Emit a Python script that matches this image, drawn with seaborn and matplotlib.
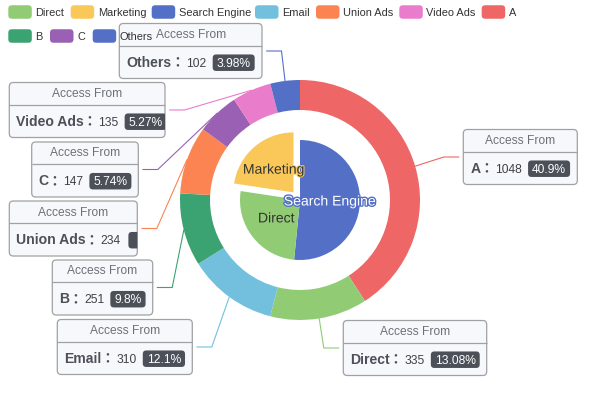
import numpy as np
import matplotlib
matplotlib.use('Agg')
import matplotlib.pyplot as plt
import seaborn as sns
from matplotlib.patches import FancyBboxPatch
import matplotlib.patheffects as pe

# ---------------- data ----------------
series_title = 'Access From'
inner_names = ['Search Engine', 'Direct', 'Marketing']
inner_values = [1548, 775, 679]
inner_selected = ['Marketing']
outer_names = ['A', 'Direct', 'Email', 'B', 'Union Ads', 'C', 'Video Ads', 'Others']
outer_values = [1048, 335, 310, 251, 234, 147, 135, 102]
legend_names = ['Direct', 'Marketing', 'Search Engine', 'Email', 'Union Ads',
                'Video Ads', 'A', 'B', 'C', 'Others']

# ---------------- styles ----------------
color_hex = {
    'Direct': '#91cc75', 'Marketing': '#fac858', 'Search Engine': '#5470c6',
    'Email': '#73c0de', 'Union Ads': '#fc8452', 'Video Ads': '#ea7ccc',
    'A': '#ee6666', 'B': '#3ba272', 'C': '#9a60b4', 'Others': '#5470c6',
}
palette = dict(zip(legend_names, sns.color_palette([color_hex[n] for n in legend_names])))

sns.set_theme(style='white')
plt.rcParams['font.family'] = ['Liberation Sans', 'Noto Sans CJK JP', 'DejaVu Sans']
PX = 0.72  # px -> pt at 100 dpi

# label box layout: (left, right, centre y) in px
label_layout = {
    'A': (463.3, 577.3, 157.0),
    'Direct': (343.3, 486.7, 348.0),
    'Email': (57.3, 192.3, 347.0),
    'B': (52.3, 152.7, 287.5),
    'Union Ads': (9.3, 137.3, 228.5),
    'C': (31.7, 138.3, 169.5),
    'Video Ads': (9.3, 165.0, 110.0),
    'Others': (119.3, 262.0, 51.0),
}
# legend layout: (icon left, centre y)
legend_layout = [(8.3, 12), (70.7, 12), (151.7, 12), (255, 12), (316, 12),
                 (399.3, 12), (481.7, 12), (8.3, 36), (50, 36), (92.7, 36)]

CX, CY = 300, 200
R_OUT, R_RING_IN, R_IN = 120, 90, 60


def percents(vals, prec=2):
    vals = np.asarray(vals, float)
    scale = 10 ** prec
    raw = vals / vals.sum() * 100 * scale
    fl = np.floor(raw)
    rem = raw - fl
    need = int(round(100 * scale - fl.sum()))
    order = np.argsort(-rem)
    for i in order[:need]:
        fl[i] += 1
    return [f"{v:.2f}".rstrip('0').rstrip('.') for v in fl / scale]


fig = plt.figure(figsize=(6, 4), dpi=100)
ax = fig.add_axes([0, 0, 1, 1])

# outer ring (y axis inverted later -> startangle -90 & counterclock gives clockwise from top)
ax.pie(outer_values, colors=[palette[n] for n in outer_names], radius=R_OUT,
       center=(CX, CY), startangle=-90, counterclock=True,
       wedgeprops=dict(width=R_OUT - R_RING_IN, linewidth=0), frame=False)

# inner pie
explode = [10 if n in inner_selected else 0 for n in inner_names]
_, inner_texts = ax.pie(inner_values, colors=[palette[n] for n in inner_names],
                        radius=R_IN, center=(CX, CY), startangle=-90, counterclock=True,
                        explode=explode, labels=inner_names, labeldistance=0.5,
                        wedgeprops=dict(linewidth=0), frame=False,
                        textprops=dict(fontsize=14 * PX))
for t, n in zip(inner_texts, inner_names):
    t.set_ha('center')
    t.set_va('center')
    if n == 'Search Engine':
        t.set_color('white')
        t.set_path_effects([pe.withStroke(linewidth=2.0, foreground=palette[n])])
    else:
        t.set_color('#333333')
        t.set_path_effects([pe.withStroke(linewidth=1.5, foreground=palette[n])])
    t.set_zorder(6)

ax.set_xlim(0, 600)
ax.set_ylim(400, 0)
ax.set_aspect('auto')
ax.axis('off')

renderer = fig.canvas.get_renderer()


def tw(t):
    return t.get_window_extent(renderer).width


pcts = percents(outer_values)
total = float(sum(outer_values))
cum = 0.0
SP = 6.67
for name, val, pct in zip(outer_names, outer_values, pcts):
    frac = val / total
    phi = 2 * np.pi * (cum + frac / 2)
    cum += frac
    ax_x = CX + R_OUT * np.sin(phi)
    ax_y = CY - R_OUT * np.cos(phi)
    x0, x1, yc = label_layout[name]
    if x0 > CX:
        end = x0 - 4.5
        elbow = end - 15
    else:
        end = x1 + 4.5
        elbow = end + 15
    ax.plot([ax_x, elbow, end], [ax_y, yc, yc], color=palette[name], lw=0.8, zorder=3)

    y0 = yc - 27.5
    h = 55
    box = FancyBboxPatch((x0, y0), x1 - x0, h, boxstyle='round,pad=0,rounding_size=4',
                         fc='#F6F8FC', ec='#A0A1A2', lw=0.9, zorder=4)
    ax.add_patch(box)
    ax.plot([x0, x1], [y0 + 22, y0 + 22], color='#A0A1A2', lw=0.9, zorder=5,
            solid_capstyle='butt')
    ax.text((x0 + x1) / 2, y0 + 11.5, series_title, ha='center', va='center',
            fontsize=12 * PX, color='#6E7079', zorder=5)

    yc2 = y0 + 38.5
    yb = yc2 + 4.6
    t_name = ax.text(0, yb, name, fontweight='bold', fontsize=14 * PX, color='#4C5058',
                     ha='left', va='baseline', zorder=6)
    t_col = ax.text(0, yb, '：', fontweight='bold', fontsize=14 * PX, color='#4C5058',
                    ha='left', va='baseline', zorder=6,
                    family=['Noto Sans CJK JP', 'DejaVu Sans'])
    t_val = ax.text(0, yb, str(val), fontsize=12 * PX, color='#3E4148',
                    ha='left', va='baseline', zorder=6)
    t_pct = ax.text(0, yb, pct + '%', fontsize=12 * PX, color='white',
                    ha='center', va='baseline', zorder=7)
    w_n, w_v, w_p = tw(t_name), tw(t_val), tw(t_pct)
    W = SP + w_n + 14 + w_v + SP + w_p + 8 + SP
    fits = W <= (x1 - x0) + 12
    if W <= (x1 - x0) + 3:
        start = (x0 + x1) / 2 - W / 2 + SP
    else:
        start = x0 + SP
    t_name.set_x(start)
    t_col.set_x(start + w_n - 1.2)
    vx = start + w_n + 14.5
    t_val.set_x(vx)
    bx = vx + w_v + SP - 0.5
    bw = w_p + 8
    if not fits:
        bx += 2
        t_pct.set_visible(False)
    badge = FancyBboxPatch((bx, yc2 + 0.7 - 8.25), bw, 16.5,
                           boxstyle='round,pad=0,rounding_size=3.5',
                           fc='#4C5058', ec='none', lw=0, zorder=6)
    ax.add_patch(badge)
    t_pct.set_x(bx + bw / 2)
    for art in (t_name, t_col, t_val, t_pct, badge):
        art.set_clip_path(box)

# legend (drawn on top)
for n, (lx, ly) in zip(legend_names, legend_layout):
    ax.add_patch(FancyBboxPatch((lx, ly - 6.75), 23.5, 13.5,
                                boxstyle='round,pad=0,rounding_size=3.5',
                                fc=palette[n], ec='none', lw=0, zorder=10))
    ax.text(lx + 27, ly + 0.5, n, ha='left', va='center', fontsize=11 * PX,
            color='#333333', zorder=11)

fig.savefig('out.png', dpi=100)
